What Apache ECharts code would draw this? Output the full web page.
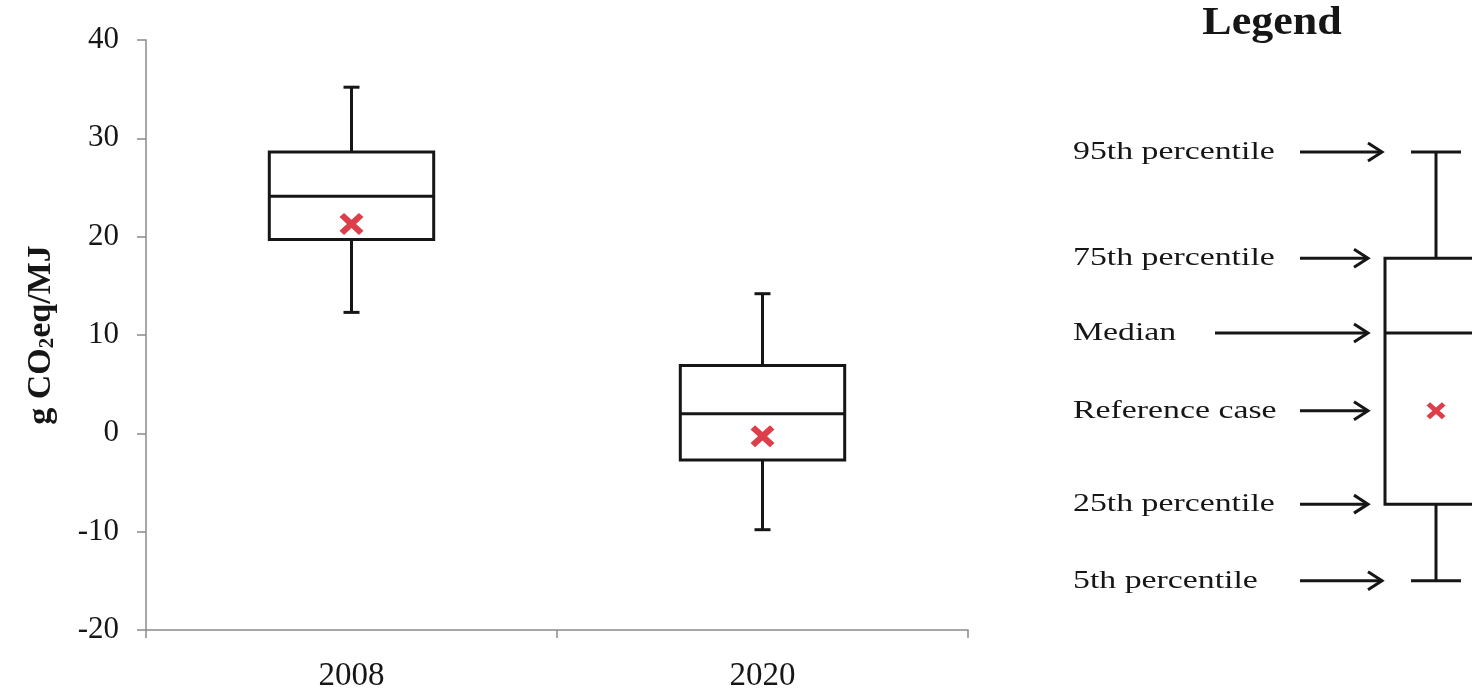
<!DOCTYPE html>
<html>
<head>
<meta charset="utf-8">
<script src="https://cdn.jsdelivr.net/npm/echarts@6/dist/echarts.min.js"></script>
<style>
html,body{margin:0;padding:0;background:#fff;}
#chart{width:1472px;height:694px;}
</style>
</head>
<body>
<div id="chart"></div>
<script>
// ---- data ----
const categories = ['2008', '2020'];
const p5 = [12.3, -9.8];
const p25 = [19.7, -2.7];
const median = [24.1, 2.0];
const p75 = [28.6, 6.9];
const p95 = [35.2, 14.2];
const referenceCase = [21.3, -0.3];
const yMin = -20, yMax = 40, yInterval = 10;

// legend illustration (same scale as main axis, hidden)
const legendLabels = ['95th percentile', '75th percentile', 'Median', 'Reference case', '25th percentile', '5th percentile'];
const legendBox = { p95: 28.6, p75: 17.8, median: 10.2, ref: 2.3, p25: -7.2, p5: -15.0 };

const FONT = "'Liberation Serif', 'Times New Roman', serif";
const INK = '#161616';
const RED = '#d40f1d';
const xPath = 'path://M0,3.8 L3.8,0 L10,6.2 L16.2,0 L20,3.8 L13.8,10 L20,16.2 L16.2,20 L10,13.8 L3.8,20 L0,16.2 L6.2,10 Z';

const chart = echarts.init(document.getElementById('chart'), null, { renderer: 'canvas' });

function boxElements(api, i, vals, halfW, capHalf) {
  const cx = api.coord([i, vals.median])[0];
  const yLow = api.coord([i, vals.p5])[1];
  const yQ1 = api.coord([i, vals.p25])[1];
  const yMed = api.coord([i, vals.median])[1];
  const yQ3 = api.coord([i, vals.p75])[1];
  const yHigh = api.coord([i, vals.p95])[1];
  const ls = { stroke: INK, lineWidth: 3, fill: null };
  return [
    { type: 'line', shape: { x1: cx, y1: yQ3, x2: cx, y2: yHigh }, style: ls },
    { type: 'line', shape: { x1: cx - capHalf, y1: yHigh, x2: cx + capHalf, y2: yHigh }, style: ls },
    { type: 'line', shape: { x1: cx, y1: yQ1, x2: cx, y2: yLow }, style: ls },
    { type: 'line', shape: { x1: cx - capHalf, y1: yLow, x2: cx + capHalf, y2: yLow }, style: ls },
    { type: 'rect', shape: { x: cx - halfW, y: yQ3, width: halfW * 2, height: yQ1 - yQ3 }, style: { stroke: INK, lineWidth: 3, fill: '#fff' } },
    { type: 'line', shape: { x1: cx - halfW, y1: yMed, x2: cx + halfW, y2: yMed }, style: ls }
  ];
}

const option = {
  backgroundColor: '#fff',
  animation: false,
  graphic: [{
    type: 'text', x: 1272, y: 24, scaleX: 1.1,
    style: { text: 'Legend', textAlign: 'center', textVerticalAlign: 'middle', fontFamily: FONT, fontWeight: 'bold', fontSize: 40, fill: INK }
  }],
  grid: [
    { left: 146, top: 40, width: 822, bottom: 64, outerBoundsMode: 'none', containLabel: false },
    { left: 1336, top: 40, width: 200, bottom: 64, outerBoundsMode: 'none', containLabel: false }
  ],
  xAxis: [{
    gridIndex: 0, type: 'category', data: categories, boundaryGap: true,
    axisLine: { onZero: false, lineStyle: { color: '#8a8a8a', width: 1.5 } },
    axisTick: { show: true, alignWithLabel: false, length: 8, lineStyle: { color: '#8a8a8a', width: 1.5 } },
    axisLabel: { fontFamily: FONT, fontSize: 33, color: INK, margin: 30 },
    splitLine: { show: false }
  }, {
    gridIndex: 1, type: 'category', data: ['legend'], show: false
  }],
  yAxis: [{
    gridIndex: 0, type: 'value', min: yMin, max: yMax, interval: yInterval,
    axisLine: { show: true, lineStyle: { color: '#8a8a8a', width: 1.5 } },
    axisTick: { show: true, length: 9, lineStyle: { color: '#8a8a8a', width: 1.5 } },
    axisLabel: { fontFamily: FONT, fontSize: 31, color: INK, margin: 27 },
    splitLine: { show: false },
    name: '{n|g CO}{s|2}{n|eq/MJ}',
    nameLocation: 'middle', nameRotate: 90, nameGap: 88,
    nameTextStyle: {
      rich: {
        n: { fontFamily: FONT, fontWeight: 'bold', fontSize: 34, color: INK, lineHeight: 40, verticalAlign: 'bottom' },
        s: { fontFamily: FONT, fontWeight: 'bold', fontSize: 21, color: INK, lineHeight: 30, verticalAlign: 'bottom' }
      }
    }
  }, {
    gridIndex: 1, type: 'value', min: yMin, max: yMax, interval: yInterval, show: false, splitLine: { show: false }
  }],
  series: [{
    type: 'custom',
    xAxisIndex: 0, yAxisIndex: 0,
    data: categories.map((c, i) => [i, p5[i], p25[i], median[i], p75[i], p95[i]]),
    renderItem: function (params, api) {
      const i = api.value(0);
      const halfW = api.size([1, 0])[0] * 0.2;
      return {
        type: 'group',
        children: boxElements(api, i, { p5: api.value(1), p25: api.value(2), median: api.value(3), p75: api.value(4), p95: api.value(5) }, halfW, 8)
      };
    },
    z: 2
  }, {
    type: 'scatter',
    xAxisIndex: 0, yAxisIndex: 0,
    data: referenceCase.map((v, i) => [i, v]),
    symbol: xPath, symbolSize: [24, 22],
    itemStyle: { color: RED },
    z: 5
  }, {
    type: 'custom',
    xAxisIndex: 1, yAxisIndex: 1,
    data: [[0, legendBox.p5, legendBox.p25, legendBox.median, legendBox.p75, legendBox.p95, legendBox.ref]],
    renderItem: function (params, api) {
      const vals = { p5: api.value(1), p25: api.value(2), median: api.value(3), p75: api.value(4), p95: api.value(5) };
      const halfW = 51, capHalf = 25;
      const children = boxElements(api, 0, vals, halfW, capHalf);
      const cx = api.coord([0, vals.median])[0];
      const levels = [vals.p95, vals.p75, vals.median, api.value(6), vals.p25, vals.p5];
      const tips = [cx - capHalf - 29, cx - halfW - 17, cx - halfW - 17, cx - halfW - 17, cx - halfW - 17, cx - capHalf - 29];
      const starts = [cx - 136, cx - 136, cx - 221, cx - 136, cx - 136, cx - 136];
      const aStyle = { stroke: INK, lineWidth: 3, fill: null };
      levels.forEach(function (v, k) {
        const y = api.coord([0, v])[1];
        children.push({
          type: 'text', x: cx - 363, y: y, scaleX: 1.3,
          style: { text: legendLabels[k], textAlign: 'left', textVerticalAlign: 'middle', fontFamily: FONT, fontSize: 26, fill: INK }
        });
        children.push({ type: 'line', shape: { x1: starts[k], y1: y, x2: tips[k] - 2, y2: y }, style: aStyle });
        children.push({ type: 'polyline', shape: { points: [[tips[k] - 14, y - 9], [tips[k], y], [tips[k] - 14, y + 9]] }, style: aStyle });
      });
      return { type: 'group', children: children };
    },
    z: 2
  }, {
    type: 'scatter',
    xAxisIndex: 1, yAxisIndex: 1,
    data: [[0, legendBox.ref]],
    symbol: xPath, symbolSize: [19, 17],
    itemStyle: { color: RED },
    z: 5
  }]
};
chart.setOption(option);
</script>
</body>
</html>
